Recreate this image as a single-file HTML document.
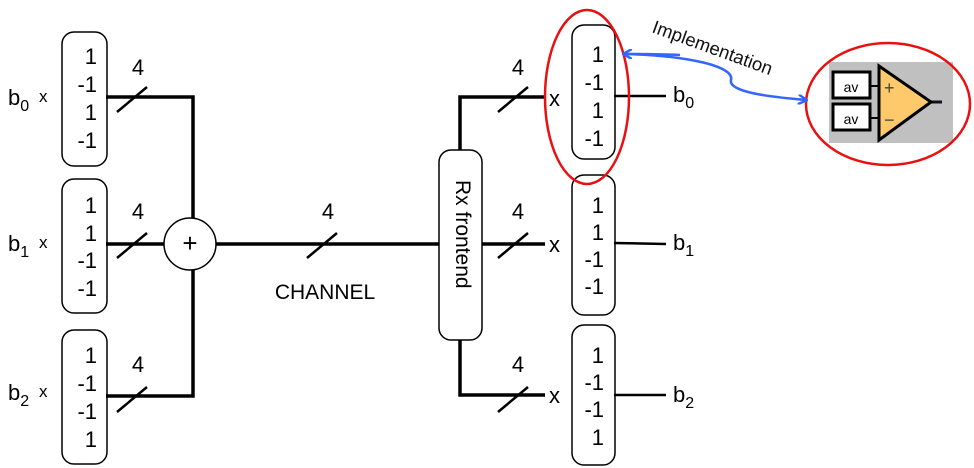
<!DOCTYPE html>
<html><head><style>body{margin:0;background:#fff}svg{display:block}text{font-family:"Liberation Sans",sans-serif}</style></head><body>
<svg width="974" height="468" viewBox="0 0 974 468" xmlns="http://www.w3.org/2000/svg">
<defs><marker id="ah" markerWidth="10" markerHeight="10" refX="8" refY="5" orient="auto" markerUnits="userSpaceOnUse"><path d="M0,0 L9,5 L0,10" fill="none" stroke="#3366ff" stroke-width="2.5"/></marker></defs>
<g fill="none" stroke="#000" stroke-width="1.5">
<rect x="62" y="32" width="45" height="134" rx="12"/>
<rect x="62" y="179" width="45" height="134" rx="12"/>
<rect x="62" y="330" width="45" height="134" rx="12"/>
<rect x="572" y="25" width="43" height="134" rx="12"/>
<rect x="572" y="175" width="43" height="140" rx="12"/>
<rect x="572" y="325" width="43" height="140" rx="12"/>
<rect x="439" y="150" width="43" height="190" rx="12"/>
<circle cx="190" cy="244" r="26"/>
</g>
<g fill="none" stroke="#000" stroke-width="3.5">
<polyline points="106,97 193,97 193,218"/>
<line x1="106" y1="244" x2="164" y2="244"/>
<polyline points="106,396 193,396 193,270"/>
<line x1="216" y1="244" x2="439" y2="244"/>
<polyline points="460,150 460,97 545,97"/>
<line x1="482" y1="244" x2="545" y2="244"/>
<polyline points="460,340 460,395 545,395"/>
</g>
<g stroke="#000" stroke-width="2.5">
<line x1="117" y1="112" x2="147" y2="87"/>
<line x1="117" y1="258" x2="147" y2="233"/>
<line x1="117" y1="412" x2="147" y2="387"/>
<line x1="307" y1="258" x2="337" y2="233"/>
<line x1="498" y1="112" x2="528" y2="87"/>
<line x1="498" y1="258" x2="528" y2="233"/>
<line x1="498" y1="412" x2="528" y2="387"/>
<line x1="614" y1="96" x2="666" y2="96"/>
<line x1="614" y1="243" x2="666" y2="244"/>
<line x1="614" y1="395" x2="666" y2="395"/>
</g>
<g font-size="22" text-anchor="end">
<text x="97" y="64">1</text><text x="97" y="92">-1</text><text x="97" y="120">1</text><text x="97" y="148">-1</text>
<text x="97" y="213">1</text><text x="97" y="241">1</text><text x="97" y="268">-1</text><text x="97" y="296">-1</text>
<text x="97" y="363">1</text><text x="97" y="391">-1</text><text x="97" y="419">-1</text><text x="97" y="447">1</text>
<text x="604" y="62">1</text><text x="604" y="90">-1</text><text x="604" y="118">1</text><text x="604" y="146">-1</text>
<text x="604" y="213">1</text><text x="604" y="240">1</text><text x="604" y="267">-1</text><text x="604" y="294">-1</text>
<text x="604" y="363">1</text><text x="604" y="390">-1</text><text x="604" y="417">-1</text><text x="604" y="445">1</text>
</g>
<g font-size="22" text-anchor="middle">
<text x="138" y="75">4</text><text x="138" y="219">4</text><text x="138" y="372">4</text>
<text x="328" y="219">4</text>
<text x="518" y="75">4</text><text x="518" y="219">4</text><text x="518" y="372">4</text>
<text x="190" y="252" font-size="26">+</text>
<text x="325" y="299" font-size="21">CHANNEL</text>
</g>
<g font-size="22">
<text x="8" y="105">b<tspan font-size="16" dy="6">0</tspan></text><text x="39" y="102" font-size="17">x</text>
<text x="8" y="251">b<tspan font-size="16" dy="6">1</tspan></text><text x="39" y="248" font-size="17">x</text>
<text x="8" y="400">b<tspan font-size="16" dy="6">2</tspan></text><text x="39" y="397" font-size="17">x</text>
<text x="549" y="106">x</text><text x="549" y="252">x</text><text x="549" y="403">x</text>
<text x="673" y="102">b<tspan font-size="16" dy="6">0</tspan></text>
<text x="673" y="250">b<tspan font-size="16" dy="6">1</tspan></text>
<text x="673" y="402">b<tspan font-size="16" dy="6">2</tspan></text>
</g>
<text transform="translate(456,180) rotate(90)" font-size="21">Rx frontend</text>
<ellipse cx="587" cy="97" rx="42" ry="87" fill="none" stroke="#e81010" stroke-width="2.5"/>
<rect x="829" y="62" width="124" height="81" fill="#c0c0c0"/>
<g stroke="#000" stroke-width="3" fill="#fff">
<rect x="833" y="72" width="37" height="26"/>
<rect x="833" y="104" width="37" height="26"/>
</g>
<line x1="870" y1="86" x2="880" y2="86" stroke="#000" stroke-width="2"/>
<line x1="870" y1="118" x2="880" y2="118" stroke="#000" stroke-width="2"/>
<line x1="930" y1="102" x2="942" y2="102" stroke="#112" stroke-width="3"/>
<polygon points="879,66 879,140 931,102" fill="#fdc96b" stroke="#000" stroke-width="3"/>
<text x="851" y="92" font-size="14" text-anchor="middle">av</text>
<text x="851" y="124" font-size="14" text-anchor="middle">av</text>
<text x="884" y="94" font-size="18" fill="#443">+</text>
<text x="884" y="126" font-size="18" fill="#443">−</text>
<ellipse cx="888" cy="104" rx="82" ry="61" fill="none" stroke="#e81010" stroke-width="2.5"/>
<path d="M623,54 C680,55 735,65 731,80 C728,92 770,97 806,100" fill="none" stroke="#3366ff" stroke-width="2.5" marker-end="url(#ah)"/>
<path d="M680,55 C660,54 640,54 624,54" fill="none" stroke="#3366ff" stroke-width="2.5" marker-end="url(#ah)"/>
<text transform="translate(651,32) rotate(20)" font-size="18.5" fill="#111">Implementation</text>
</svg>
</body></html>
